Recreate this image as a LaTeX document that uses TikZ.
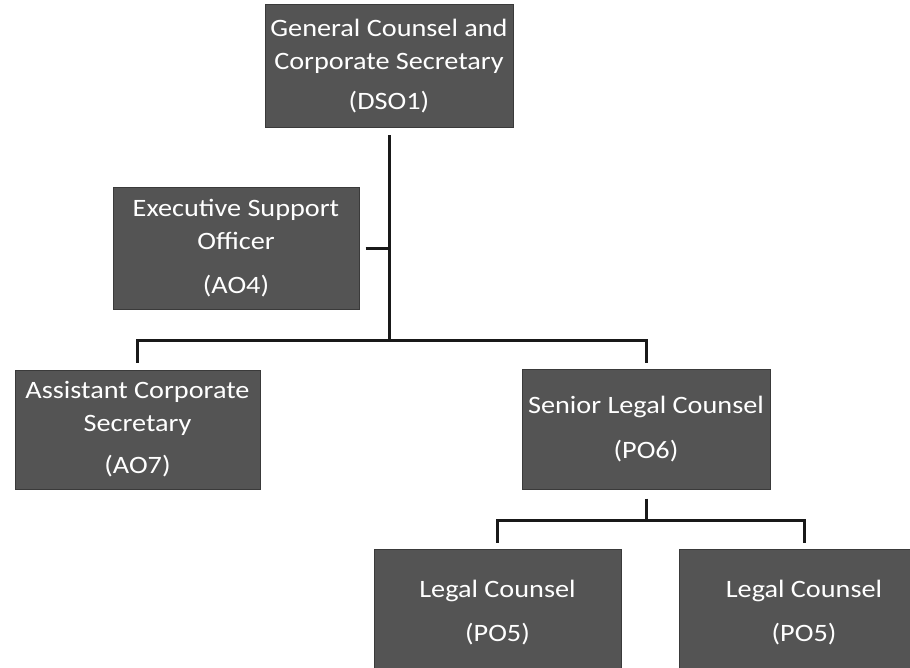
\documentclass[tikz,border=0pt]{standalone}
\usepackage{fontspec}
\setmainfont{Carlito}[FakeStretch=1.13]
\definecolor{boxfill}{RGB}{84,84,84}
\definecolor{boxedge}{RGB}{58,58,58}
\begin{document}
\begin{tikzpicture}[x=1pt,y=-1pt,
  orgbox/.style={rectangle, fill=boxfill, draw=boxedge, line width=1pt,
    text=white, align=center, inner sep=0pt,
    font=\fontsize{25}{33}\selectfont},
  conn/.style={draw=black!90, line width=3pt}]
\useasboundingbox (0,0) rectangle (910,668);
\clip (0,0) rectangle (910,668);
\fill[white] (0,0) rectangle (910,668);

\node[orgbox, minimum width=248, minimum height=123] (gc) at (389,66.5)
  {General Counsel and\\Corporate Secretary\\[7pt](DSO1)};
\node[orgbox, minimum width=246, minimum height=121] (eso) at (236,248.5)
  {Executive Support\\Officer\\[11pt](AO4)};
\node[orgbox, minimum width=245, minimum height=119] (acs) at (137.5,429.5)
  {Assistant Corporate\\Secretary\\[9pt](AO7)};
\node[orgbox, minimum width=248, minimum height=120] (slc) at (646,429)
  {Senior Legal Counsel\\[12pt](PO6)};
\node[orgbox, minimum width=247, minimum height=127] (lc1) at (497.5,612.5)
  {Legal Counsel\\[11pt](PO5)};
\node[orgbox, minimum width=250, minimum height=127] (lc2) at (804,612.5)
  {Legal Counsel\\[11pt](PO5)};

\coordinate (j1) at (389,340);
\coordinate (j2) at (646,520);

\draw[conn] ([yshift=-7pt]gc.south) -- (j1);
\draw[conn] ([xshift=6pt]eso.east) -- (eso.east -| j1);
\draw[conn] ([yshift=7pt]acs.north) |- (j1) -| ([yshift=6pt]slc.north);
\draw[conn] ([yshift=-9pt]slc.south) -- (j2);
\draw[conn] ([yshift=6pt]lc1.north) |- (j2) -| ([yshift=6pt]lc2.north);
\end{tikzpicture}
\end{document}
